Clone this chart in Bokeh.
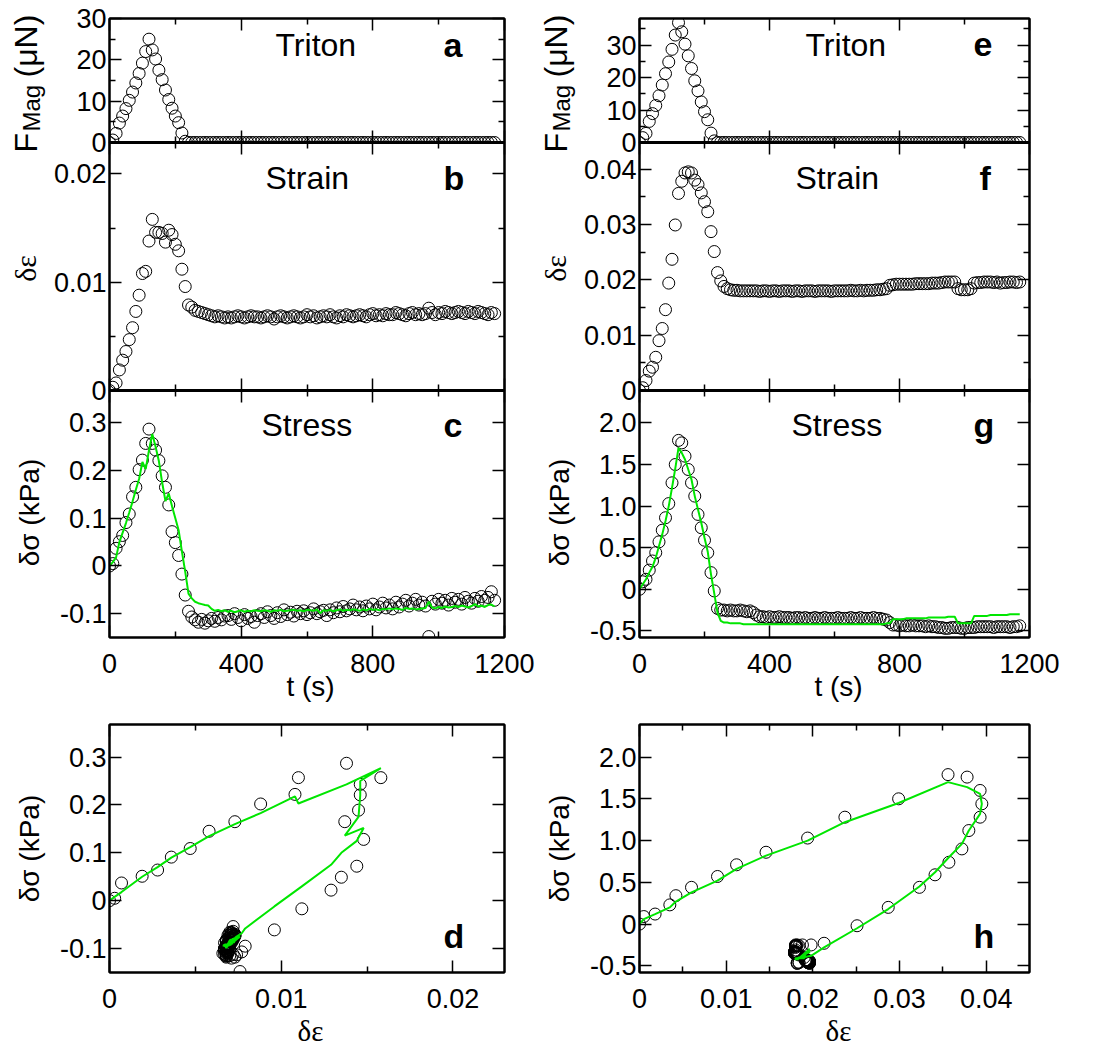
import math
from bokeh.plotting import figure
from bokeh.layouts import column, row
from bokeh.models import FixedTicker, LinearAxis, Label, CustomJSTickFormatter, Range1d
from bokeh.embed import file_html
from bokeh.resources import INLINE

# ---------------- data ----------------
t = [0, 10, 20, 30, 40, 50, 60, 70, 80, 90,
     100, 110, 120, 130, 140, 150, 160, 170, 180, 190,
     200, 210, 220, 230, 240, 250, 260, 270, 280, 290,
     300, 310, 320, 330, 340, 350, 360, 370, 380, 390,
     400, 410, 420, 430, 440, 450, 460, 470, 480, 490,
     500, 510, 520, 530, 540, 550, 560, 570, 580, 590,
     600, 610, 620, 630, 640, 650, 660, 670, 680, 690,
     700, 710, 720, 730, 740, 750, 760, 770, 780, 790,
     800, 810, 820, 830, 840, 850, 860, 870, 880, 890,
     900, 910, 920, 930, 940, 950, 960, 970, 980, 990,
     1000, 1010, 1020, 1030, 1040, 1050, 1060, 1070, 1080, 1090,
     1100, 1110, 1120, 1130, 1140, 1150, 1160, 1170]

# left column (a-d)
force_L = [0, 0.6, 2.2, 4.7, 6.4, 8.2, 10.2, 12.2, 14.4, 16.7,
           19.2, 22.0, 25.0, 22.4, 20.2, 17.5, 15.2, 12.7, 10.4, 8.3,
           6.4, 4.8, 2.3, 0.3, 0, 0, 0, 0, 0, 0,
           0, 0, 0, 0, 0, 0, 0, 0, 0, 0,
           0, 0, 0, 0, 0, 0, 0, 0, 0, 0,
           0, 0, 0, 0, 0, 0, 0, 0, 0, 0,
           0, 0, 0, 0, 0, 0, 0, 0, 0, 0,
           0, 0, 0, 0, 0, 0, 0, 0, 0, 0,
           0, 0, 0, 0, 0, 0, 0, 0, 0, 0,
           0, 0, 0, 0, 0, 0, 0, 0, 0, 0,
           0, 0, 0, 0, 0, 0, 0, 0, 0, 0,
           0, 0, 0, 0, 0, 0, 0, 0]

strain_L = [0, 0.0003, 0.0007, 0.0019, 0.0028, 0.0036, 0.0047, 0.0058, 0.0073, 0.0088,
            0.0108, 0.0110, 0.0138, 0.0158, 0.0146, 0.0146, 0.0145, 0.0137, 0.0148, 0.0144,
            0.0135, 0.0129, 0.0112, 0.0096, 0.0079, 0.0077, 0.0074, 0.0073, 0.0072, 0.0071,
            0.0070, 0.0069, 0.0068, 0.0069, 0.0068, 0.0067, 0.0068, 0.0067, 0.0068, 0.0069,
            0.0068, 0.0067, 0.0068, 0.0069, 0.0068, 0.0068, 0.0067, 0.0068, 0.0069, 0.0068,
            0.0066, 0.0068, 0.0069, 0.0068, 0.0067, 0.0068, 0.0069, 0.0068, 0.0067, 0.0068,
            0.0070, 0.0068, 0.0069, 0.0067, 0.0068, 0.0069, 0.0068, 0.0070, 0.0068, 0.0067,
            0.0069, 0.0068, 0.0070, 0.0069, 0.0068, 0.0069, 0.0070, 0.0069, 0.0068, 0.0070,
            0.0071, 0.0069, 0.0070, 0.0069, 0.0071, 0.0070, 0.0070, 0.0072, 0.0071, 0.0070,
            0.0069, 0.0071, 0.0072, 0.0070, 0.0071, 0.0070, 0.0071, 0.0076, 0.0072, 0.0070,
            0.0072, 0.0071, 0.0073, 0.0072, 0.0071, 0.0072, 0.0073, 0.0072, 0.0071, 0.0073,
            0.0072, 0.0071, 0.0073, 0.0072, 0.0071, 0.0070, 0.0072, 0.0071]

stress_L = [0, 0.005, 0.037, 0.051, 0.064, 0.091, 0.109, 0.145, 0.165, 0.202,
            0.222, 0.257, 0.287, 0.257, 0.243, 0.221, 0.189, 0.165, 0.128, 0.072,
            0.049, 0.022, -0.017, -0.061, -0.095, -0.107, -0.113, -0.118, -0.112, -0.120,
            -0.115, -0.110, -0.116, -0.108, -0.113, -0.105, -0.104, -0.112, -0.100, -0.108,
            -0.115, -0.102, -0.110, -0.106, -0.118, -0.104, -0.100, -0.108, -0.096, -0.104,
            -0.110, -0.098, -0.106, -0.092, -0.102, -0.097, -0.105, -0.095, -0.100, -0.094,
            -0.102, -0.098, -0.090, -0.100, -0.096, -0.093, -0.104, -0.092, -0.098, -0.088,
            -0.096, -0.085, -0.094, -0.090, -0.082, -0.092, -0.086, -0.094, -0.084, -0.090,
            -0.080, -0.092, -0.086, -0.078, -0.088, -0.082, -0.090, -0.076, -0.086, -0.080,
            -0.072, -0.084, -0.078, -0.070, -0.082, -0.076, -0.084, -0.148, -0.074, -0.080,
            -0.070, -0.078, -0.072, -0.082, -0.068, -0.076, -0.070, -0.080, -0.066, -0.074,
            -0.078, -0.068, -0.074, -0.064, -0.072, -0.066, -0.054, -0.072]

fit_L = [0, 0.008, 0.018, 0.050, 0.070, 0.090, 0.112, 0.135, 0.160, 0.183,
         0.218, 0.203, 0.243, 0.277, 0.250, 0.220, 0.175, 0.136, 0.152, 0.125,
         0.100, 0.075, 0.030, -0.012, -0.058, -0.068, -0.075, -0.078, -0.080, -0.082,
         -0.083, -0.090, -0.094, -0.092, -0.095, -0.093, -0.096, -0.094, -0.097, -0.095,
         -0.093, -0.096, -0.094, -0.095, -0.093, -0.094, -0.095, -0.093, -0.094, -0.096,
         -0.093, -0.094, -0.092, -0.095, -0.094, -0.093, -0.092, -0.094, -0.093, -0.095,
         -0.092, -0.093, -0.094, -0.091, -0.099, -0.093, -0.094, -0.092, -0.095, -0.093,
         -0.091, -0.094, -0.092, -0.093, -0.091, -0.092, -0.094, -0.091, -0.093, -0.090,
         -0.092, -0.091, -0.093, -0.090, -0.091, -0.089, -0.091, -0.089, -0.090, -0.092,
         -0.088, -0.090, -0.089, -0.091, -0.090, -0.089, -0.088, -0.075, -0.087, -0.089,
         -0.086, -0.088, -0.085, -0.087, -0.086, -0.084, -0.086, -0.083, -0.085, -0.087,
         -0.084, -0.080, -0.085, -0.083, -0.086, -0.082, -0.081, -0.085]

# right column (e-h)
force_R = [0, 1.5, 2.8, 6.5, 8.9, 11.4, 14.4, 17.7, 21.2, 24.8,
           28.7, 33.1, 36.9, 34.1, 30.3, 26.7, 22.8, 19.0, 15.9, 12.5,
           9.5, 7.0, 2.9, 0.5, 0, 0, 0, 0, 0, 0,
           0, 0, 0, 0, 0, 0, 0, 0, 0, 0,
           0, 0, 0, 0, 0, 0, 0, 0, 0, 0,
           0, 0, 0, 0, 0, 0, 0, 0, 0, 0,
           0, 0, 0, 0, 0, 0, 0, 0, 0, 0,
           0, 0, 0, 0, 0, 0, 0, 0, 0, 0,
           0, 0, 0, 0, 0, 0, 0, 0, 0, 0,
           0, 0, 0, 0, 0, 0, 0, 0, 0, 0,
           0, 0, 0, 0, 0, 0, 0, 0, 0, 0,
           0, 0, 0, 0, 0, 0, 0, 0]

strain_R = [0, 0.0005, 0.0018, 0.0035, 0.0042, 0.0060, 0.0090, 0.0112, 0.0146, 0.0194,
            0.0237, 0.0299, 0.0356, 0.0378, 0.0393, 0.0395, 0.0393, 0.0380, 0.0372, 0.0357,
            0.0341, 0.0323, 0.0287, 0.0251, 0.0213, 0.0198, 0.0188, 0.0184, 0.0182, 0.0181,
            0.0181, 0.0180, 0.0180, 0.0180, 0.0180, 0.0180, 0.0180, 0.0179, 0.0180, 0.0180,
            0.0179, 0.0180, 0.0180, 0.0179, 0.0180, 0.0180, 0.0180, 0.0179, 0.0180, 0.0180,
            0.0179, 0.0180, 0.0180, 0.0180, 0.0179, 0.0180, 0.0180, 0.0180, 0.0180, 0.0179,
            0.0180, 0.0180, 0.0180, 0.0180, 0.0180, 0.0181, 0.0180, 0.0180, 0.0181, 0.0180,
            0.0181, 0.0181, 0.0181, 0.0182, 0.0182, 0.0183, 0.0184, 0.0190, 0.0191, 0.0192,
            0.0192, 0.0192, 0.0192, 0.0192, 0.0192, 0.0193, 0.0193, 0.0193, 0.0193, 0.0193,
            0.0194, 0.0194, 0.0194, 0.0195, 0.0196, 0.0196, 0.0196, 0.0196, 0.0184, 0.0182,
            0.0182, 0.0182, 0.0184, 0.0194, 0.0195, 0.0195, 0.0196, 0.0196, 0.0196, 0.0195,
            0.0196, 0.0194, 0.0195, 0.0195, 0.0196, 0.0196, 0.0195, 0.0196]

stress_R = [0, 0.09, 0.12, 0.23, 0.34, 0.44, 0.57, 0.71, 0.86, 1.03,
            1.28, 1.50, 1.79, 1.76, 1.60, 1.44, 1.28, 1.12, 0.90, 0.74,
            0.59, 0.44, 0.20, -0.02, -0.23, -0.25, -0.25, -0.26, -0.25, -0.26,
            -0.26, -0.25, -0.26, -0.27, -0.26, -0.28, -0.31, -0.33, -0.33, -0.34,
            -0.33, -0.34, -0.34, -0.33, -0.34, -0.34, -0.34, -0.35, -0.34, -0.34,
            -0.35, -0.34, -0.35, -0.35, -0.34, -0.35, -0.35, -0.34, -0.35, -0.35,
            -0.35, -0.34, -0.35, -0.35, -0.35, -0.34, -0.35, -0.35, -0.34, -0.35,
            -0.35, -0.35, -0.34, -0.35, -0.35, -0.36, -0.37, -0.40, -0.43, -0.43,
            -0.44, -0.43, -0.44, -0.44, -0.43, -0.44, -0.44, -0.44, -0.45, -0.44,
            -0.45, -0.45, -0.46, -0.46, -0.47, -0.47, -0.46, -0.46, -0.46, -0.47,
            -0.47, -0.46, -0.46, -0.46, -0.45, -0.45, -0.45, -0.45, -0.45, -0.46,
            -0.45, -0.45, -0.45, -0.45, -0.46, -0.45, -0.45, -0.44]

fit_R = [0, 0.06, 0.12, 0.20, 0.27, 0.38, 0.52, 0.66, 0.82, 1.00,
         1.22, 1.45, 1.70, 1.64, 1.56, 1.44, 1.32, 1.12, 0.96, 0.80,
         0.62, 0.45, 0.18, -0.05, -0.28, -0.38, -0.40, -0.40, -0.41, -0.41,
         -0.41, -0.41, -0.42, -0.42, -0.42, -0.42, -0.42, -0.42, -0.42, -0.42,
         -0.42, -0.42, -0.42, -0.42, -0.42, -0.42, -0.42, -0.42, -0.42, -0.42,
         -0.42, -0.42, -0.42, -0.42, -0.42, -0.42, -0.42, -0.42, -0.42, -0.42,
         -0.42, -0.42, -0.42, -0.42, -0.42, -0.42, -0.42, -0.42, -0.42, -0.42,
         -0.42, -0.42, -0.42, -0.42, -0.42, -0.42, -0.41, -0.41, -0.36, -0.36,
         -0.36, -0.36, -0.35, -0.35, -0.35, -0.35, -0.35, -0.35, -0.35, -0.34,
         -0.34, -0.34, -0.34, -0.34, -0.34, -0.33, -0.33, -0.33, -0.41, -0.41,
         -0.41, -0.41, -0.41, -0.32, -0.32, -0.32, -0.32, -0.32, -0.31, -0.31,
         -0.31, -0.31, -0.31, -0.31, -0.30, -0.30, -0.30, -0.30]

# tick values
t_major = [0, 400, 800, 1200]
t_minor = [200, 600, 1000]
force_ticks_L = [0, 10, 20, 30]
force_minor_L = [5, 15, 25]
force_ticks_R = [0, 10, 20, 30]
force_minor_R = [5, 15, 25, 35]
strain_ticks_L = [0, 0.01, 0.02]
strain_minor_L = [0.005, 0.015]
strain_ticks_R = [0, 0.01, 0.02, 0.03, 0.04]
strain_minor_R = [0.005, 0.015, 0.025, 0.035]
stress_ticks_L = [-0.1, 0, 0.1, 0.2, 0.3]
stress_ticks_R = [-0.5, 0, 0.5, 1.0, 1.5, 2.0]

# ---------------- styling / layout ----------------
FONT = "Liberation Sans"
SERIF = "Liberation Serif"
GREEN = "#00e600"
TICK_FS = "27px"
BASE_FIX = -13   # correction for alphabetic baseline placement


def fmt(n):
    return CustomJSTickFormatter(code="return tick == 0 ? '0' : tick.toFixed(%d);" % n)


def setup_axis(ax, major, minor, formatter=None, labels=True, lw=2, standoff=3):
    ax.ticker = FixedTicker(ticks=major, minor_ticks=minor)
    ax.axis_line_color = "black"
    ax.axis_line_width = lw
    ax.major_tick_in = 12
    ax.major_tick_out = 0
    ax.minor_tick_in = 6
    ax.minor_tick_out = 0
    ax.major_tick_line_color = "black"
    ax.minor_tick_line_color = "black"
    ax.major_tick_line_width = 1.5
    ax.minor_tick_line_width = 1.5
    if labels:
        if formatter is not None:
            ax.formatter = formatter
        ax.major_label_text_font = FONT
        ax.major_label_text_font_size = TICK_FS
        ax.major_label_text_color = "black"
        ax.major_label_standoff = standoff
    else:
        ax.formatter = CustomJSTickFormatter(code="return '';")
        ax.major_label_text_font_size = "0px"
        ax.major_label_standoff = 0


def panel(geom, xr, yr, borders, mt, xt, xm, yt, ym, xfmt=None, yfmt=None,
          xlabels=False, thick=False):
    L, R, T, B = geom
    bl, br, bt, bb = borders
    p = figure(x_range=xr, y_range=yr, frame_width=R - L, frame_height=B - T,
               min_border_left=bl, min_border_right=br, min_border_top=bt,
               min_border_bottom=bb, output_backend="svg", toolbar_location=None,
               background_fill_color=None, border_fill_color=None,
               outline_line_color="black", outline_line_width=2,
               margin=(mt, 0, 0, 0))
    p.xgrid.visible = False
    p.ygrid.visible = False
    setup_axis(p.xaxis[0], xt, xm, xfmt, xlabels, lw=3 if thick else 2, standoff=16)
    setup_axis(p.yaxis[0], yt, ym, yfmt, True, standoff=3)
    ra = LinearAxis()
    setup_axis(ra, yt, ym, labels=False)
    p.add_layout(ra, "right")
    ta = LinearAxis()
    setup_axis(ta, xt, xm, labels=False)
    p.add_layout(ta, "above")
    return p


def circles(p, x, y):
    p.scatter(x, y, size=12, marker="circle", fill_color=None,
              line_color="black", line_width=1)


XL = (109, 504)
XR = (639, 1029)
A_TOP = 18
D_BOTTOM = 77
ROW = {"a": (18, 142, A_TOP, 16, 0), "b": (142, 390, 12, 16, -28),
       "c": (390, 637, 12, 68, -28), "d": (724, 972, 19, D_BOTTOM, 0)}
BL = (101, 36)
BR = (99, 61)
ROT = math.pi / 2

cols = []
for col, XX, BB in (("L", XL, BL), ("R", XR, BR)):
    F = force_L if col == "L" else force_R
    E = strain_L if col == "L" else strain_R
    S = stress_L if col == "L" else stress_R
    G = fit_L if col == "L" else fit_R
    f_rng = (0, 30) if col == "L" else (0, 38.2)
    e_rng = (0, 0.0229) if col == "L" else (0, 0.0448)
    s_rng = (-0.15, 0.368) if col == "L" else (-0.58, 2.39)
    dx_rng = (0, 0.023) if col == "L" else (0, 0.045)
    fT, fm = (force_ticks_L, force_minor_L) if col == "L" else (force_ticks_R, force_minor_R)
    eT, em = (strain_ticks_L, strain_minor_L) if col == "L" else (strain_ticks_R, strain_minor_R)
    sT = stress_ticks_L if col == "L" else stress_ticks_R

    def g(key):
        T, B, bt, bb, mt = ROW[key]
        return (XX[0], XX[1], T, B), (BB[0], BB[1], bt, bb), mt

    geo, brd, mt = g("a")
    pa = panel(geo, (0, 1200), f_rng, brd, mt, t_major, t_minor, fT, fm, thick=True)
    circles(pa, t, F)

    geo, brd, mt = g("b")
    pb = panel(geo, (0, 1200), e_rng, brd, mt, t_major, t_minor, eT, em,
               yfmt=fmt(2), thick=True)
    circles(pb, t, E)

    geo, brd, mt = g("c")
    pc = panel(geo, (0, 1200), s_rng, brd, mt, t_major, t_minor, sT, [],
               yfmt=fmt(1), xlabels=True)
    circles(pc, t, S)
    pc.line(t, G, line_color=GREEN, line_width=2)

    geo, brd, mt = g("d")
    pd_ = panel(geo, dx_rng, s_rng, brd, mt, eT, em, sT, [],
                xfmt=fmt(2), yfmt=fmt(1), xlabels=True)
    circles(pd_, E, S)
    pd_.line(E, G, line_color=GREEN, line_width=2)

    cols.append(column(pa, pb, pc, pd_))

# ---------------- text overlay (page-pixel coordinates) ----------------
W_TOT = 532 + 550
H_TOT = (A_TOP + 124 + 16) + 248 + 299 + (19 + 248 + D_BOTTOM)
ov = figure(x_range=Range1d(8, 8 + W_TOT), y_range=Range1d(H_TOT, 0),
            width=W_TOT, height=H_TOT, min_border=0,
            x_axis_location=None, y_axis_location=None, toolbar_location=None,
            output_backend="svg", background_fill_color=None, border_fill_color=None,
            outline_line_color=None, margin=(0, 0, 0, -W_TOT))
ov.grid.visible = False


def txt(x, y, text, size, bold=False, font=FONT, angle=0.0, align="left",
        baseline="alphabetic"):
    if baseline == "alphabetic" and angle == 0.0:
        y = y + BASE_FIX
    ov.add_layout(Label(x=x, y=y, text=text, text_font=font,
                        text_font_size="%dpx" % size,
                        text_font_style="bold" if bold else "normal",
                        text_align=align, text_baseline=baseline, angle=angle,
                        text_color="black"))


for dx, letters in ((0, "abcd"), (530, "efgh")):
    txt(275 + dx, 57, "Triton", 32)
    txt(443 + dx, 57, letters[0], 34, bold=True)
    txt(265 + dx, 190, "Strain", 32)
    txt(443 + dx + (6 if dx else 0), 190, letters[1], 34, bold=True)
    txt(261 + dx, 437, "Stress", 32)
    txt(443 + dx, 437, letters[2], 34, bold=True)
    txt(443 + dx, 948, letters[3], 34, bold=True)
    # y-axis titles (F with subscript Mag, then unit)
    txt(25 + dx, 152, "F", 32, angle=ROT, baseline="middle")
    txt(31 + dx, 131, "Mag", 24, angle=ROT, baseline="middle")
    txt(25 + dx, 77, "(\u03bcN)", 32, angle=ROT, baseline="middle")
    txt(25 + dx, 268, "\u03b4\u03b5", 30, font=SERIF, angle=ROT, align="center",
        baseline="middle")
    txt(29 + dx, 512, "\u03b4\u03c3 (kPa)", 28, angle=ROT, align="center",
        baseline="middle")
    txt(29 + dx, 848, "\u03b4\u03c3 (kPa)", 28, angle=ROT, align="center",
        baseline="middle")
    # x-axis titles
    txt(310 + dx - (2 if dx else 0), 686, "t (s)", 28, align="center", baseline="middle")
    txt(310 + dx - (2 if dx else 0), 1030, "\u03b4\u03b5", 29, font=SERIF,
        align="center", baseline="middle")

layout = row(cols[0], cols[1], ov, margin=(0, 0, 0, 8))

open("out.html", "w").write(file_html(layout, INLINE))
